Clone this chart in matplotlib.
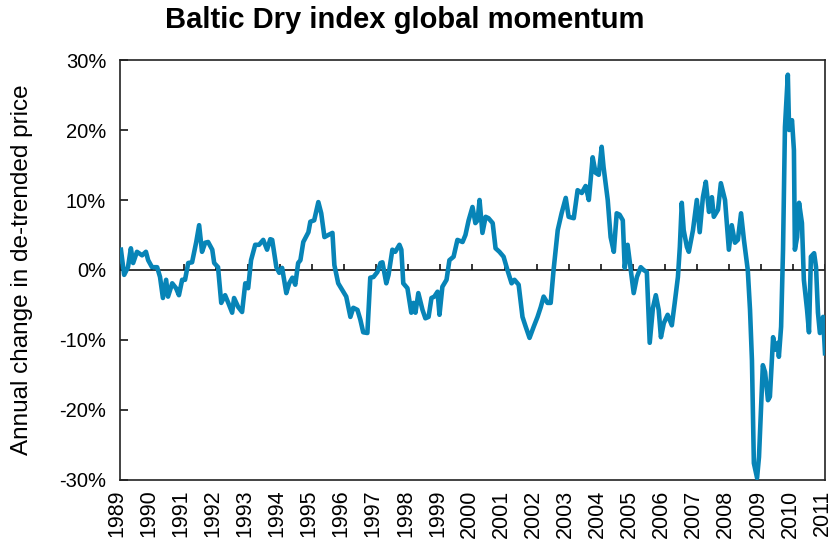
import matplotlib
matplotlib.use("Agg")
import matplotlib.pyplot as plt
import matplotlib.transforms as mtransforms
import numpy as np

plt.rcParams['font.family'] = ['Liberation Sans', 'DejaVu Sans']

# years after 1989 (decimal) and annual change in de-trended price (%)
t_offset = [
    0.03, 0.13, 0.25, 0.34, 0.41, 0.53, 0.69, 0.81, 0.88, 1.00,
    1.16, 1.25, 1.34, 1.44, 1.50, 1.63, 1.75, 1.84, 1.94, 2.03,
    2.13, 2.25, 2.38, 2.47, 2.56, 2.66, 2.75, 2.88, 2.94, 3.06,
    3.16, 3.28, 3.38, 3.50, 3.56, 3.69, 3.81, 3.91, 4.00, 4.09,
    4.22, 4.34, 4.47, 4.59, 4.69, 4.75, 4.88, 4.97, 5.06, 5.19,
    5.28, 5.38, 5.47, 5.56, 5.63, 5.72, 5.88, 5.94, 6.06, 6.19,
    6.28, 6.38, 6.50, 6.63, 6.69, 6.81, 6.94, 7.06, 7.19, 7.28,
    7.41, 7.50, 7.59, 7.72, 7.81, 7.91, 8.03, 8.13, 8.19, 8.31,
    8.38, 8.50, 8.59, 8.72, 8.78, 8.84, 8.97, 9.09, 9.16, 9.22,
    9.31, 9.44, 9.53, 9.63, 9.72, 9.81, 9.91, 9.97, 10.06, 10.19,
    10.28, 10.41, 10.53, 10.69, 10.78, 10.88, 11.00, 11.09, 11.16, 11.22,
    11.31, 11.41, 11.50, 11.63, 11.72, 11.84, 11.97, 12.09, 12.22, 12.31,
    12.44, 12.56, 12.66, 12.78, 12.91, 13.03, 13.13, 13.22, 13.34, 13.44,
    13.53, 13.66, 13.78, 13.91, 14.00, 14.16, 14.28, 14.41, 14.53, 14.63,
    14.75, 14.84, 14.94, 15.03, 15.09, 15.22, 15.31, 15.41, 15.50, 15.59,
    15.69, 15.75, 15.84, 15.94, 16.03, 16.13, 16.25, 16.34, 16.44, 16.53,
    16.63, 16.72, 16.81, 16.88, 16.97, 17.09, 17.22, 17.31, 17.41, 17.47,
    17.53, 17.59, 17.69, 17.75, 17.88, 18.00, 18.09, 18.19, 18.28, 18.38,
    18.47, 18.53, 18.66, 18.75, 18.88, 19.00, 19.09, 19.19, 19.28, 19.38,
    19.47, 19.59, 19.66, 19.72, 19.78, 19.88, 19.94, 20.00, 20.06, 20.13,
    20.22, 20.28, 20.38, 20.44, 20.53, 20.56, 20.63, 20.69, 20.75, 20.84,
    20.88, 20.97, 21.03, 21.06, 21.13, 21.19, 21.28, 21.34, 21.44, 21.50,
    21.56, 21.66, 21.72, 21.78, 21.84, 21.94, 22.00,
]
momentum = [
    2.9, -0.7, 0.4, 3.1, 1.0, 2.6, 2.1, 2.6, 1.4, 0.4,
    0.4, -1.0, -4.0, -1.4, -3.8, -1.9, -2.6, -3.6, -1.4, -1.4,
    1.0, 1.1, 4.0, 6.4, 2.6, 3.9, 4.0, 2.9, 1.0, 0.4,
    -4.7, -3.6, -4.7, -6.1, -4.0, -5.3, -6.0, -1.9, -2.6, 1.4,
    3.6, 3.6, 4.3, 2.9, 4.4, 4.3, 0.4, -0.4, 0.3, -3.3,
    -1.9, -1.1, -2.1, 1.0, 1.4, 4.0, 5.4, 6.9, 7.1, 9.7,
    8.1, 4.7, 5.0, 5.3, 0.7, -1.9, -2.9, -3.8, -6.7, -5.4,
    -5.7, -7.1, -8.9, -9.0, -1.1, -1.0, -0.3, 1.0, 1.1, -1.9,
    -0.7, 2.9, 2.6, 3.6, 2.9, -1.9, -2.6, -6.1, -4.7, -6.1,
    -3.3, -5.7, -6.9, -6.7, -4.0, -3.8, -3.1, -6.4, -2.4, -1.4,
    1.4, 1.9, 4.3, 4.0, 5.0, 7.1, 9.0, 6.7, 7.1, 10.0,
    5.3, 7.6, 7.4, 6.7, 3.1, 2.6, 1.9, 0.0, -1.9, -1.4,
    -2.1, -6.7, -8.1, -9.7, -8.1, -6.7, -5.3, -3.8, -4.7, -4.7,
    0.0, 5.7, 8.1, 10.3, 7.6, 7.4, 11.4, 11.0, 12.0, 10.0,
    16.1, 13.9, 13.6, 17.6, 14.7, 10.0, 4.7, 2.6, 8.1, 7.9,
    7.1, 0.3, 3.6, 0.0, -3.3, -1.0, 0.4, 0.0, -0.3, -10.4,
    -5.4, -3.6, -5.7, -9.6, -7.6, -6.4, -7.9, -4.7, -1.0, 3.3,
    9.6, 5.7, 3.3, 2.6, 5.7, 10.0, 5.4, 10.4, 12.6, 8.3,
    10.4, 7.6, 8.6, 12.4, 10.0, 2.9, 6.4, 3.9, 4.3, 8.1,
    4.3, 0.0, -5.7, -12.9, -27.6, -29.7, -26.7, -20.0, -13.6, -14.6,
    -18.6, -18.1, -9.6, -11.4, -10.4, -12.4, -8.1, 2.9, 20.4, 27.9,
    20.0, 21.4, 17.1, 2.9, 4.7, 9.6, 6.7, -1.4, -5.7, -8.9,
    1.9, 2.4, 0.4, -6.1, -9.0, -6.7, -11.9,
]
start_year = 1989
years = list(range(1989, 2012))
y_ticks = [-30, -20, -10, 0, 10, 20, 30]

x = start_year + np.array(t_offset)
y = np.array(momentum)

fig = plt.figure(figsize=(8.32, 5.49), dpi=100)
ax = fig.add_axes([0.1442, 0.1257, 0.8474, 0.765])

ax.plot(x, y, color='#0784b7', lw=3.3, solid_joinstyle='round', zorder=3)
ax.axhline(0, color='black', lw=1.1, zorder=2)
# small year ticks sitting on the zero line
ax.vlines(years, 0, 0.9, color='black', lw=1.1, zorder=2)

ax.set_xlim(1989, 2011)
ax.set_ylim(-30, 30)
ax.set_xticks(years)
ax.set_xticklabels([str(yr) for yr in years], rotation=90, fontsize=15.5)
ax.tick_params(axis='x', length=0, pad=7)
# nudge year labels a touch left so the last one stays inside
shift = mtransforms.ScaledTranslation(-3 / 100, 0, fig.dpi_scale_trans)
for lab in ax.get_xticklabels():
    lab.set_transform(lab.get_transform() + shift)

ax.set_yticks(y_ticks)
ax.set_yticklabels(['%d%%' % v for v in y_ticks], fontsize=14.5)
ax.tick_params(axis='y', direction='in', length=6, width=1.1, pad=10)

for sp in ax.spines.values():
    sp.set_linewidth(1.2)
    sp.set_color('#222222')

ax.set_ylabel('Annual change in de-trended price', fontsize=17.5)
ax.yaxis.set_label_coords(-0.124, 0.5)
fig.text(0.487, 0.963, 'Baltic Dry index global momentum', ha='center', va='center',
         fontsize=21, fontweight='bold')

fig.savefig('out.png', dpi=100)
